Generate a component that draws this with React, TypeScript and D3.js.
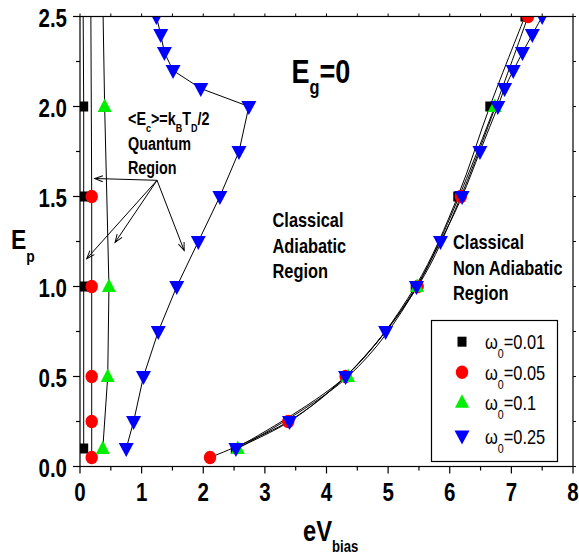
import React from "react";
import * as d3 from "d3";

// ---- data: [eV_bias, E_p] pairs ----
const X_TICKS = [0, 1, 2, 3, 4, 5, 6, 7, 8];
const Y_TICKS = [0, 0.5, 1.0, 1.5, 2.0, 2.5];

// quantum / adiabatic branches (left)
const w001Left: [number, number][] = [[0.06, 0.1], [0.06, 1.0], [0.06, 1.5], [0.06, 2.0], [0.05, 2.6]];
const w005Left: [number, number][] = [[0.19, 0.05], [0.19, 0.25], [0.19, 0.5], [0.19, 1.0], [0.19, 1.5], [0.175, 2.6]];
const w01Left: [number, number][] = [[0.37, 0.1], [0.45, 0.5], [0.47, 1.0], [0.40, 2.0], [0.37, 2.6]];
const w025Left: [number, number][] = [
  [0.75, 0.1], [0.87, 0.25], [1.03, 0.5], [1.27, 0.75], [1.57, 1.0], [1.92, 1.25], [2.27, 1.5],
  [2.58, 1.75], [2.74, 2.0], [1.96, 2.1], [1.51, 2.2], [1.37, 2.3], [1.31, 2.4], [1.24, 2.5],
];

// non adiabatic branches (right)
const w001Right: [number, number][] = [[2.52, 0.1], [4.31, 0.5], [5.44, 1.0], [6.13, 1.5], [6.65, 2.0], [7.22, 2.5]];
const w005Right: [number, number][] = [[2.11, 0.05], [3.38, 0.25], [4.31, 0.5], [5.48, 1.0], [6.18, 1.5], [7.27, 2.5]];
const w01Right: [number, number][] = [[2.56, 0.1], [4.35, 0.5], [5.47, 1.0], [6.73, 2.0]];
const w025Right: [number, number][] = [
  [2.53, 0.1], [3.40, 0.25], [4.31, 0.5], [4.96, 0.75], [5.46, 1.0], [5.85, 1.25], [6.20, 1.5],
  [6.49, 1.75], [6.78, 2.0], [6.89, 2.1], [7.03, 2.2], [7.18, 2.3], [7.34, 2.4], [7.50, 2.5],
];

const SERIES_NAMES = ["0.01", "0.05", "0.1", "0.25"];
const SERIES_COLORS = ["#000000", "#ff0000", "#00ee00", "#0000ff"];
const SERIES_SHAPES = ["square", "circle", "up", "down"];

// annotation arrows: from label to the quantum curves
const ARROW_FROM: [number, number] = [1.25, 1.59];
const ARROW_TO: [number, number][] = [[0.24, 1.60], [0.11, 1.155], [0.57, 1.245], [1.69, 1.20]];

const W = 579;
const H = 556;
const FONT = "'Liberation Sans', Arial, sans-serif";

const x = d3.scaleLinear().domain([0, 8]).range([80, 573]);
const y = d3.scaleLinear().domain([0, 2.5]).range([466.5, 16.5]);

function Marker({ shape, color, cx, cy }: { shape: string; color: string; cx: number; cy: number }) {
  if (shape === "square") return <rect x={cx - 4.5} y={cy - 5} width={9} height={10} fill={color} />;
  if (shape === "circle") return <ellipse cx={cx} cy={cy} rx={6.2} ry={6.7} fill={color} />;
  if (shape === "up")
    return <polygon points={`${cx},${cy - 8} ${cx + 7},${cy + 5.5} ${cx - 7},${cy + 5.5}`} fill={color} />;
  return <polygon points={`${cx - 7.5},${cy - 5.5} ${cx + 7.5},${cy - 5.5} ${cx},${cy + 8.5}`} fill={color} />;
}

function Txt({
  x: tx, y: ty, size, weight = "bold", sx = 0.82, anchor = "start", children,
}: { x: number; y: number; size: number; weight?: string; sx?: number; anchor?: string; children: React.ReactNode }) {
  return (
    <g transform={`translate(${tx},${ty}) scale(${sx},1)`}>
      <text fontFamily={FONT} fontSize={size} fontWeight={weight} textAnchor={anchor as any} fill="#000">
        {children}
      </text>
    </g>
  );
}

export default function App() {
  // left branches are joined point to point, right branches follow a smooth curve
  const straight = d3.line<[number, number]>().x((d) => x(d[0])).y((d) => y(d[1]));
  const smooth = d3
    .line<[number, number]>()
    .x((d) => x(d[0]))
    .y((d) => y(d[1]))
    .curve(d3.curveCatmullRom.alpha(0.5));
  const groups = [
    [w001Left, w001Right],
    [w005Left, w005Right],
    [w01Left, w01Right],
    [w025Left, w025Right],
  ];
  const xMinor = d3.range(0, 8.01, 0.5);
  const yMinor = d3.range(0, 2.51, 0.25);
  const legendRows = [341.7, 372.3, 402.3, 436];

  return (
    <svg width={W} height={H} style={{ position: "absolute", left: 0, top: 0, background: "#fff" }}>
      <defs>
        <clipPath id="plot">
          <rect x={x(0)} y={y(2.5)} width={x(8) - x(0)} height={y(0) - y(2.5)} />
        </clipPath>
        <marker id="head" viewBox="-10 -5 12 10" markerWidth={12} markerHeight={10} refX={0} refY={0}
          orient="auto" markerUnits="userSpaceOnUse">
          <path d="M-8,-3 L0,0 L-8,3" fill="none" stroke="#000" strokeWidth={1} />
        </marker>
      </defs>

      {/* curves */}
      <g clipPath="url(#plot)">
        {groups.map((g, i) =>
          g.map((pts, j) => (
            <path key={`l${i}-${j}`} d={(j === 0 ? straight(pts) : smooth(pts)) || ""} fill="none" stroke="#000" strokeWidth={1} />
          ))
        )}
        {groups.map((g, i) =>
          g.map((pts, j) =>
            pts.map((p, k) => (
              <Marker key={`m${i}-${j}-${k}`} shape={SERIES_SHAPES[i]} color={SERIES_COLORS[i]} cx={x(p[0])} cy={y(p[1])} />
            ))
          )
        )}
      </g>

      {/* frame */}
      <rect x={x(0)} y={y(2.5)} width={x(8) - x(0)} height={y(0) - y(2.5)} fill="none" stroke="#000" strokeWidth={1.2} />

      {/* bottom & top ticks */}
      {xMinor.map((v) => {
        const major = Math.abs(v - Math.round(v)) < 1e-6;
        return (
          <g key={`xt${v}`}>
            <line x1={x(v)} x2={x(v)} y1={y(0)} y2={y(0) + (major ? 7 : 4)} stroke="#000" strokeWidth={1.2} />
            <line x1={x(v)} x2={x(v)} y1={y(2.5)} y2={y(2.5) - 3} stroke="#000" strokeWidth={1} />
          </g>
        );
      })}
      {/* left & right ticks */}
      {yMinor.map((v) => {
        const major = Math.abs(v * 2 - Math.round(v * 2)) < 1e-6;
        return (
          <g key={`yt${v}`}>
            <line x1={x(0)} x2={x(0) - (major ? 7 : 4)} y1={y(v)} y2={y(v)} stroke="#000" strokeWidth={1.2} />
            <line x1={x(8)} x2={x(8) + 3} y1={y(v)} y2={y(v)} stroke="#000" strokeWidth={1} />
          </g>
        );
      })}

      {X_TICKS.map((v) => (
        <Txt key={`xl${v}`} x={x(v)} y={y(0) + 34} size={25} anchor="middle">{String(v)}</Txt>
      ))}
      {Y_TICKS.map((v) => (
        <Txt key={`yl${v}`} x={67} y={y(v) + 10} size={25} anchor="end">{v.toFixed(1)}</Txt>
      ))}

      {/* axis titles */}
      <Txt x={11} y={248.5} size={28}>
        E<tspan fontSize={17} dy={13}>p</tspan>
      </Txt>
      <Txt x={303} y={541} size={29}>
        eV<tspan fontSize={16} dy={11}>bias</tspan>
      </Txt>

      {/* annotations */}
      <Txt x={291.5} y={83} size={33}>
        E<tspan fontSize={20} dy={11}>g</tspan><tspan fontSize={33} dy={-11}>=0</tspan>
      </Txt>

      <Txt x={128} y={125} size={17.5}>
        {"<E"}<tspan fontSize={11} dy={7}>c</tspan><tspan fontSize={17.5} dy={-7}>{">=k"}</tspan>
        <tspan fontSize={11} dy={7}>B</tspan><tspan fontSize={17.5} dy={-7}>T</tspan>
        <tspan fontSize={11} dy={7}>D</tspan><tspan fontSize={17.5} dy={-7}>/2</tspan>
      </Txt>
      <Txt x={128} y={150} size={17.5}>Quantum</Txt>
      <Txt x={128} y={173.5} size={17.5}>Region</Txt>

      <Txt x={272.5} y={227} size={20}>Classical</Txt>
      <Txt x={272.5} y={252.5} size={20}>Adiabatic</Txt>
      <Txt x={272.5} y={278} size={20}>Region</Txt>

      <Txt x={453} y={249} size={20}>Classical</Txt>
      <Txt x={453} y={275} size={20}>Non Adiabatic</Txt>
      <Txt x={453} y={300} size={20}>Region</Txt>

      {ARROW_TO.map((t, i) => (
        <line key={`ar${i}`} x1={x(ARROW_FROM[0])} y1={y(ARROW_FROM[1])} x2={x(t[0])} y2={y(t[1])}
          stroke="#000" strokeWidth={1} markerEnd="url(#head)" />
      ))}

      {/* legend */}
      <rect x={431.5} y={320.5} width={126} height={141} fill="#fff" stroke="#000" strokeWidth={1.2} />
      {SERIES_NAMES.map((name, i) => (
        <g key={`lg${i}`}>
          <Marker shape={SERIES_SHAPES[i]} color={SERIES_COLORS[i]} cx={462} cy={legendRows[i]} />
          <Txt x={485} y={legendRows[i] + 7.5} size={20} weight="normal" sx={0.82}>
            ω<tspan fontSize={13} dy={9}>0</tspan><tspan fontSize={20} dy={-9}>{`=${name}`}</tspan>
          </Txt>
        </g>
      ))}
    </svg>
  );
}
